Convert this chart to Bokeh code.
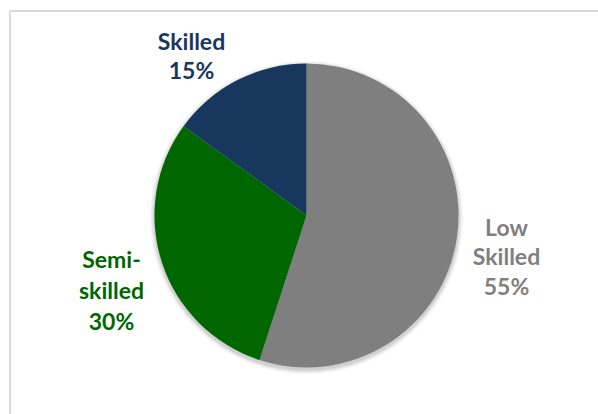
import numpy as np
from bokeh.plotting import figure
from bokeh.models import Range1d
from bokeh.core.properties import value
from bokeh.embed import file_html
from bokeh.resources import INLINE

# ---- data ----
categories = ["Low Skilled", "Semi-skilled", "Skilled"]
shares = [55, 30, 15]
colors = ["#7F7F7F", "#006600", "#17375E"]
label_lines = [["Low", "Skilled", "55%"], ["Semi-", "skilled", "30%"], ["Skilled", "15%"]]

W, H = 598, 414
p = figure(width=W, height=H, output_backend="svg", toolbar_location=None,
           x_range=Range1d(0, W), y_range=Range1d(0, H), min_border=0,
           background_fill_color="white", border_fill_color="white")
p.axis.visible = False
p.grid.visible = False
p.outline_line_color = None

def px(x):
    return x

def py(y):
    return H - y

# chart border (only top/left visible in reference)
p.quad(left=px(9.5), right=W + 20, top=py(10.5), bottom=-20,
       fill_color=None, line_color="#d9d9d9", line_width=2)

cx, cy, r = px(306), py(215), 152

# soft shadow
for i, a in enumerate([0.05, 0.05, 0.04, 0.03, 0.02]):
    p.circle(x=cx, y=cy - 2, radius=r + 1 + i, fill_color="black", fill_alpha=a,
             line_color=None)

# wedges
vals = np.array(shares, dtype=float)
frac = vals / vals.sum()
ends = np.cumsum(frac) * 2 * np.pi
starts = np.concatenate([[0], ends[:-1]])
start_angles = np.pi / 2 - starts
end_angles = np.pi / 2 - ends
p.wedge(x=cx, y=cy, radius=r, start_angle=list(start_angles), end_angle=list(end_angles),
        direction="clock", fill_color=colors, line_color=None)

# labels (layout positions: center x, first baseline y, line spacing)
label_pos = [(506, 226, 29.5), (111, 258, 31), (191, 40, 29)]
for lines, (lx, ly, dy), col in zip(label_lines, label_pos, colors):
    xs = [px(lx)] * len(lines)
    ys = [py(ly + k * dy) for k in range(len(lines))]
    p.text(x=xs, y=ys, text=lines, text_font=value("Lato"), text_font_style="bold",
           text_font_size="23px", text_color=col, text_align="center",
           text_baseline="alphabetic")

open("out.html", "w").write(file_html(p, INLINE))
